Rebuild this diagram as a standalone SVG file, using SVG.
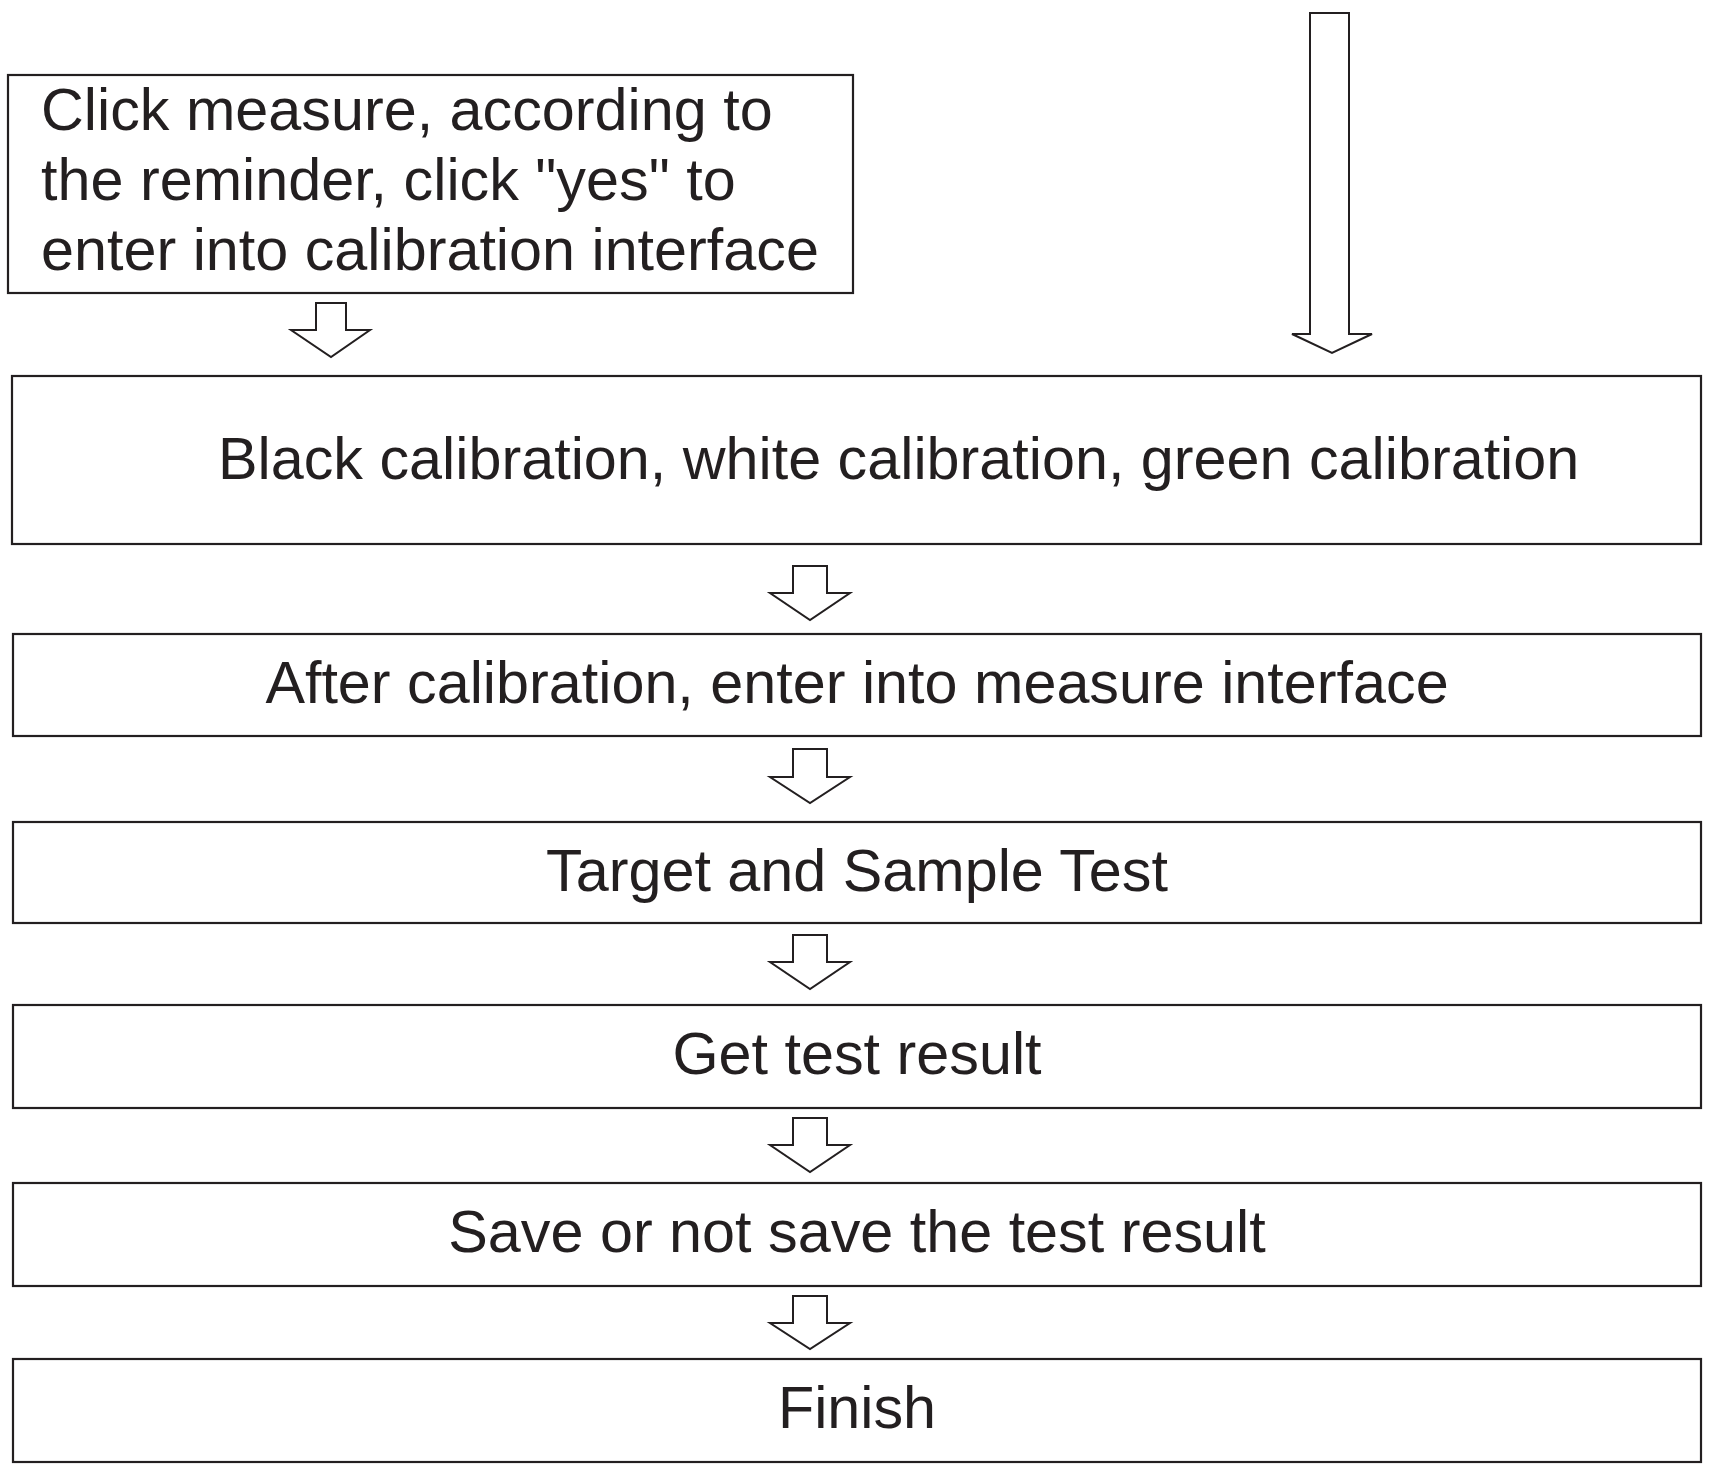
<svg xmlns="http://www.w3.org/2000/svg" width="1709" height="1465" viewBox="0 0 1709 1465">
<style>
.box{fill:#fff;stroke:#231f20;stroke-width:2.2}
.arr{fill:#fff;stroke:#231f20;stroke-width:2;stroke-linejoin:miter}
text{font-family:"Liberation Sans",Arial,sans-serif;font-size:59.3px;fill:#231f20}
.c{text-anchor:middle}
</style>
<rect width="1709" height="1465" fill="#fff"/>
<g id="connectors">
<polygon class="arr" points="1310,13 1349,13 1349,334 1372,334 1332,353 1292,334 1310,334"/>
<polygon class="arr" points="316,303 346,303 346,330 370,330 331,357 291,330 316,330"/>
<polygon class="arr" points="793,566 827,566 827,593 850,593 810,620 770,593 793,593"/>
<polygon class="arr" points="793,749 827,749 827,777 850,777 810,803 770,777 793,777"/>
<polygon class="arr" points="793,935 827,935 827,962 850,962 810,989 770,962 793,962"/>
<polygon class="arr" points="793,1118 827,1118 827,1145 850,1145 810,1172 770,1145 793,1145"/>
<polygon class="arr" points="793,1296 827,1296 827,1323 850,1323 810,1349 770,1323 793,1323"/>
</g>
<g id="n1">
<rect class="box" x="8" y="75" width="845" height="218"/>
<text x="41" y="130">Click measure, according to</text>
<text x="41" y="200">the reminder, click "yes" to</text>
<text x="41" y="270">enter into calibration interface</text>
</g>
<g id="n2">
<rect class="box" x="12" y="376" width="1689" height="168"/>
<text x="218" y="479">Black calibration, white calibration, green calibration</text>
</g>
<g id="n3">
<rect class="box" x="13" y="634" width="1688" height="102"/>
<text class="c" x="857" y="703">After calibration, enter into measure interface</text>
</g>
<g id="n4">
<rect class="box" x="13" y="822" width="1688" height="101"/>
<text class="c" x="857" y="891">Target and Sample Test</text>
</g>
<g id="n5">
<rect class="box" x="13" y="1005" width="1688" height="103"/>
<text class="c" x="857" y="1074">Get test result</text>
</g>
<g id="n6">
<rect class="box" x="13" y="1183" width="1688" height="103"/>
<text class="c" x="857" y="1252">Save or not save the test result</text>
</g>
<g id="n7">
<rect class="box" x="13" y="1359" width="1688" height="103"/>
<text class="c" x="857" y="1428">Finish</text>
</g>
</svg>
